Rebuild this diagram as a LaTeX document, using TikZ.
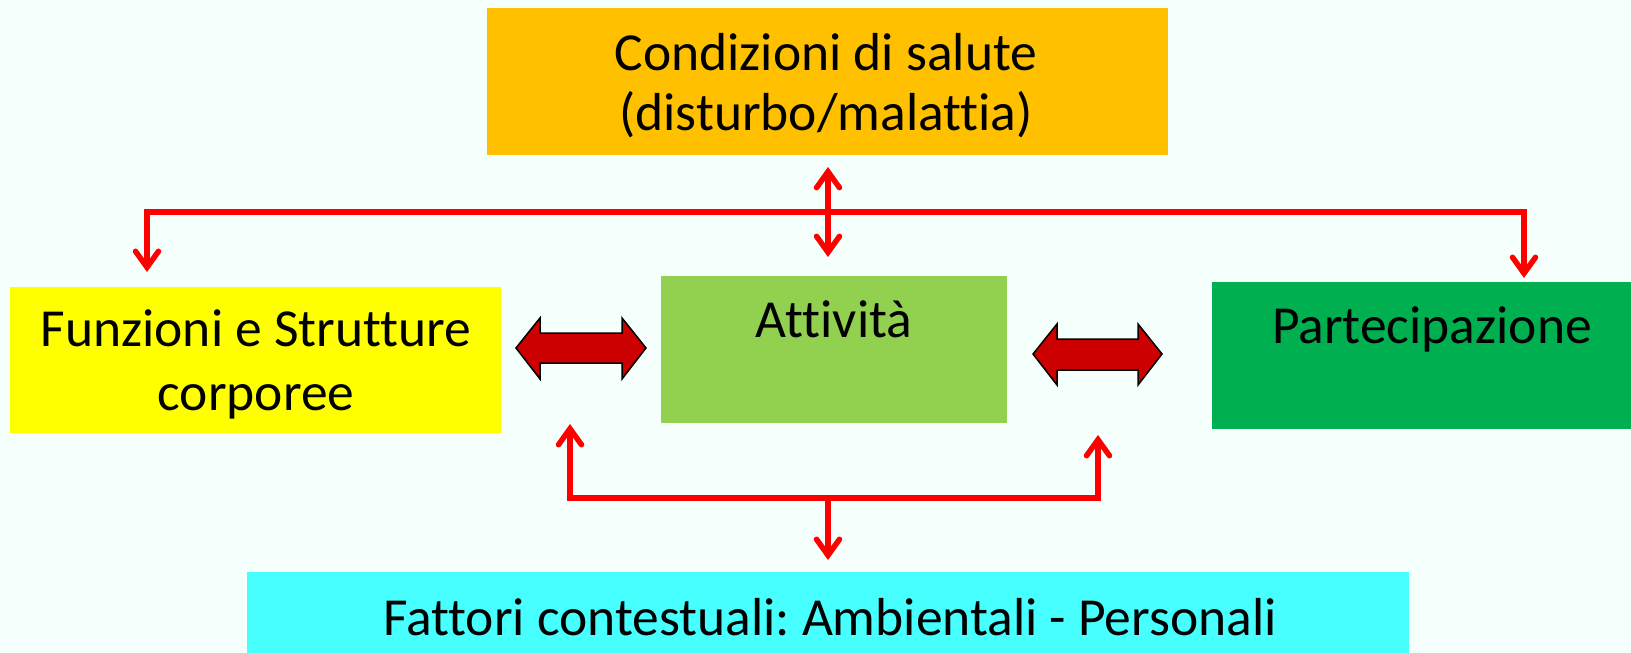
\documentclass[tikz,border=0pt]{standalone}
\usepackage{fontspec}
\setmainfont{Carlito}[Ligatures={NoCommon}]
\usetikzlibrary{arrows.meta}
\definecolor{bgc}{HTML}{F5FFFC}
\definecolor{orangebox}{HTML}{FFC000}
\definecolor{yellowbox}{HTML}{FFFF00}
\definecolor{lgreen}{HTML}{92D050}
\definecolor{dgreen}{HTML}{00B050}
\definecolor{cyanbox}{HTML}{47FFFF}
\definecolor{redline}{HTML}{FF0000}
\definecolor{darkred}{HTML}{CC0000}
\tikzset{
  box/.style={draw=none, inner sep=0pt, outer sep=0pt},
  txt/.style={anchor=base, inner sep=0pt, font=\fontsize{53.5}{62}\selectfont},
  conn/.style={draw=redline, line width=5.5pt, line join=miter,
    arrows={Straight Barb[length=16pt,width=23pt,line cap=round]-Straight Barb[length=16pt,width=23pt,line cap=round]}},
  connone/.style={draw=redline, line width=5.5pt, line join=miter,
    -{Straight Barb[length=16pt,width=23pt,line cap=round]}},
  blockarrow/.style={fill=darkred, draw=black, line width=1.5pt, line join=miter}
}
\frenchspacing
\begin{document}
\begin{tikzpicture}[x=1pt,y=-1pt]
\fill[bgc] (0,0) rectangle (1631,653);
\useasboundingbox (0,0) rectangle (1631,653);
% boxes
\fill[orangebox] (487,8) rectangle (1168,155);
\node[box, minimum width=681pt, minimum height=147pt] (top) at (827.5,81.5) {};
\fill[yellowbox] (10,287) rectangle (501,433);
\node[box, minimum width=491pt, minimum height=146pt] (fun) at (255.5,360) {};
\fill[lgreen] (661,276) rectangle (1007,423);
\node[box, minimum width=346pt, minimum height=147pt] (att) at (834,349.5) {};
\fill[dgreen] (1212,282) rectangle (1631,429);
\node[box, minimum width=419pt, minimum height=147pt] (par) at (1421.5,355.5) {};
\fill[cyanbox] (247,572) rectangle (1409,653);
\node[box, minimum width=1162pt, minimum height=81pt] (fat) at (828,612.5) {};
% texts
\node[txt] (t1) at (826,70) {Condizioni di salute};
\node[txt] (t2) at (826,130) {(disturbo/malattia)};
\node[txt] (t3) at (256,346) {Funzioni e Strutture};
\node[txt] (t4) at (256,410) {corporee};
\node[txt] (t5) at (834,337) {Attività};
\node[txt] (t6) at (1432,343) {Partecipazione};
\node[txt] (t7) at (830,635) {Fattori contestuali: Ambientali - Personali};
% connector coordinates
\coordinate (c1) at (147,272);
\coordinate (c2) at (147,212);
\coordinate (c3) at (1524,212);
\coordinate (c4) at (1524,278);
\coordinate (c5) at (828,167);
\coordinate (c6) at (828,257);
\coordinate (d1) at (570,424);
\coordinate (d2) at (570,498);
\coordinate (d3) at (1098,498);
\coordinate (d4) at (1098,435);
\coordinate (d5) at (828,498);
\coordinate (d6) at (828,560);
\draw[conn] (c1) -- (c2) -- (c3) -- (c4);
\draw[conn] (c5) -- (c6);
\draw[conn] (d1) -- (d2) -- (d3) -- (d4);
\draw[connone] (d5) -- (d6);
% block double arrows
\draw[blockarrow] (516,348) -- (540,318) -- (540,333) -- (622,333) -- (622,318) -- (646,348)
  -- (622,379) -- (622,363) -- (540,363) -- (540,379) -- cycle;
\draw[blockarrow] (1033,354) -- (1057,324) -- (1057,339) -- (1138,339) -- (1138,324) -- (1162,354)
  -- (1138,385) -- (1138,370) -- (1057,370) -- (1057,385) -- cycle;
\end{tikzpicture}
\end{document}
